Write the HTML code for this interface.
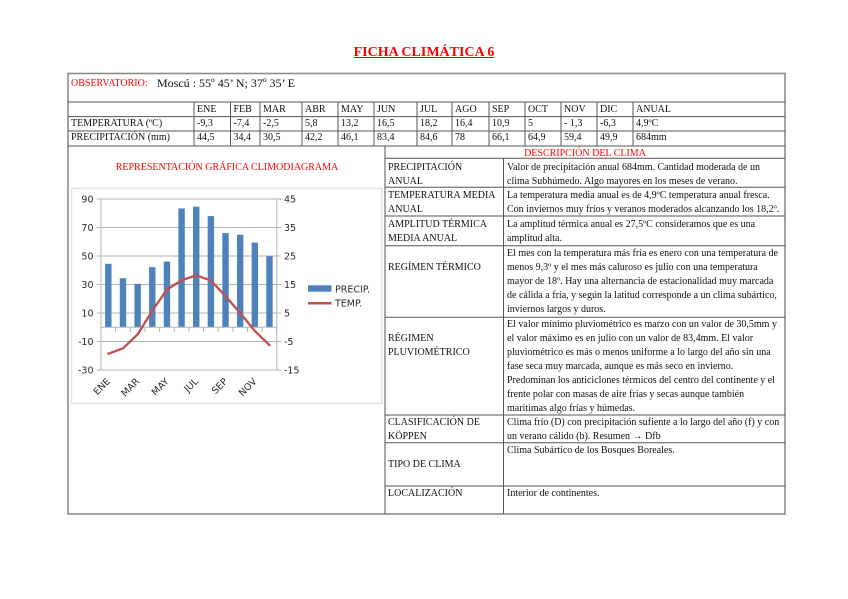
<!DOCTYPE html>
<html>
<head>
<meta charset="utf-8">
<style>
  html,body{margin:0;padding:0;background:#fff;}
  #pg{position:relative;width:848px;height:599px;overflow:hidden;background:#fff;
      font-family:"Liberation Serif","Times New Roman",serif;color:#111;}
  .t{position:absolute;white-space:nowrap;font-size:10px;line-height:14px;transform:translateY(1px);}
  .r{color:#ff0000;}
  svg{position:absolute;left:0;top:0;}
  .ax{font-family:"DejaVu Sans","Liberation Sans",sans-serif;font-size:9.5px;fill:#2a2a2a;}
</style>
</head>
<body>
<div id="pg">
<svg width="848" height="599" viewBox="0 0 848 599">
  <rect x="68" y="73.5" width="717" height="440.5" fill="none" stroke="#8c8c8c" stroke-width="1.6"/>
  <g stroke="#555" stroke-width="1">
    <line x1="68" y1="102" x2="785" y2="102"/>
    <line x1="68" y1="116.6" x2="785" y2="116.6"/>
    <line x1="68" y1="131" x2="785" y2="131"/>
    <line x1="68" y1="146" x2="785" y2="146"/>
    <line x1="194" y1="102" x2="194" y2="146"/>
    <line x1="230.5" y1="102" x2="230.5" y2="146"/>
    <line x1="260" y1="102" x2="260" y2="146"/>
    <line x1="302" y1="102" x2="302" y2="146"/>
    <line x1="338" y1="102" x2="338" y2="146"/>
    <line x1="374" y1="102" x2="374" y2="146"/>
    <line x1="417" y1="102" x2="417" y2="146"/>
    <line x1="452" y1="102" x2="452" y2="146"/>
    <line x1="489" y1="102" x2="489" y2="146"/>
    <line x1="525" y1="102" x2="525" y2="146"/>
    <line x1="561" y1="102" x2="561" y2="146"/>
    <line x1="597" y1="102" x2="597" y2="146"/>
    <line x1="633" y1="102" x2="633" y2="146"/>
    <line x1="385" y1="146" x2="385" y2="514"/>
    <line x1="503.5" y1="158.3" x2="503.5" y2="514"/>
    <line x1="385" y1="158.3" x2="785" y2="158.3"/>
    <line x1="385" y1="187.3" x2="785" y2="187.3"/>
    <line x1="385" y1="216" x2="785" y2="216"/>
    <line x1="385" y1="245.7" x2="785" y2="245.7"/>
    <line x1="385" y1="317.3" x2="785" y2="317.3"/>
    <line x1="385" y1="415" x2="785" y2="415"/>
    <line x1="385" y1="442.7" x2="785" y2="442.7"/>
    <line x1="385" y1="486" x2="785" y2="486"/>
  </g>

  <rect x="71.7" y="188.3" width="310.3" height="215" fill="none" stroke="#d9d9d9" stroke-width="1"/>
  <g stroke="#b3b3b3" stroke-width="1">
    <line x1="97" y1="199" x2="281" y2="199"/>
    <line x1="97" y1="227.5" x2="281" y2="227.5"/>
    <line x1="97" y1="256" x2="281" y2="256"/>
    <line x1="97" y1="284.5" x2="281" y2="284.5"/>
    <line x1="97" y1="313" x2="281" y2="313"/>
    <line x1="97" y1="341.5" x2="281" y2="341.5"/>
    <line x1="97" y1="370" x2="281" y2="370"/>
    <line x1="101" y1="199" x2="101" y2="370"/>
    <line x1="276.8" y1="199" x2="276.8" y2="370"/>
  </g>
  <g fill="#4f81bd">
    <rect x="105.13" y="263.84" width="6.4" height="63.41"/>
    <rect x="119.78" y="278.23" width="6.4" height="49.02"/>
    <rect x="134.43" y="283.79" width="6.4" height="43.46"/>
    <rect x="149.08" y="267.11" width="6.4" height="60.14"/>
    <rect x="163.73" y="261.56" width="6.4" height="65.69"/>
    <rect x="178.38" y="208.40" width="6.4" height="118.85"/>
    <rect x="193.03" y="206.69" width="6.4" height="120.56"/>
    <rect x="207.68" y="216.10" width="6.4" height="111.15"/>
    <rect x="222.33" y="233.06" width="6.4" height="94.19"/>
    <rect x="236.98" y="234.77" width="6.4" height="92.48"/>
    <rect x="251.63" y="242.60" width="6.4" height="84.65"/>
    <rect x="266.28" y="256.14" width="6.4" height="71.11"/>
  </g>
  <g stroke="#b3b3b3" stroke-width="1">
    <line x1="101" y1="327.25" x2="276.8" y2="327.25"/>
    <line x1="101" y1="327.25" x2="101" y2="332"/>
    <line x1="115.65" y1="327.25" x2="115.65" y2="332"/>
    <line x1="130.3" y1="327.25" x2="130.3" y2="332"/>
    <line x1="144.95" y1="327.25" x2="144.95" y2="332"/>
    <line x1="159.6" y1="327.25" x2="159.6" y2="332"/>
    <line x1="174.25" y1="327.25" x2="174.25" y2="332"/>
    <line x1="188.9" y1="327.25" x2="188.9" y2="332"/>
    <line x1="203.55" y1="327.25" x2="203.55" y2="332"/>
    <line x1="218.2" y1="327.25" x2="218.2" y2="332"/>
    <line x1="232.85" y1="327.25" x2="232.85" y2="332"/>
    <line x1="247.5" y1="327.25" x2="247.5" y2="332"/>
    <line x1="262.15" y1="327.25" x2="262.15" y2="332"/>
    <line x1="276.8" y1="327.25" x2="276.8" y2="332"/>
  </g>
  <polyline fill="none" stroke="#c0504d" stroke-width="2.3" stroke-linejoin="round" stroke-linecap="round"
    points="108.33,353.76 122.98,348.34 137.63,334.38 152.28,310.72 166.93,289.63 181.58,280.23 196.23,275.38 210.88,280.51 225.53,296.19 240.18,313.0 254.83,330.96 269.48,345.21"/>
  <g class="ax" text-anchor="end">
    <text x="93.5" y="202.4">90</text>
    <text x="93.5" y="230.9">70</text>
    <text x="93.5" y="259.4">50</text>
    <text x="93.5" y="287.9">30</text>
    <text x="93.5" y="316.4">10</text>
    <text x="93.5" y="344.9">-10</text>
    <text x="93.5" y="373.4">-30</text>
  </g>
  <g class="ax">
    <text x="284" y="202.4">45</text>
    <text x="284" y="230.9">35</text>
    <text x="284" y="259.4">25</text>
    <text x="284" y="287.9">15</text>
    <text x="284" y="316.4">5</text>
    <text x="284" y="344.9">-5</text>
    <text x="284" y="373.4">-15</text>
  </g>
  <g class="ax" text-anchor="end">
    <text transform="translate(110.8,382) rotate(-45)">ENE</text>
    <text transform="translate(140.1,382) rotate(-45)">MAR</text>
    <text transform="translate(169.4,382) rotate(-45)">MAY</text>
    <text transform="translate(198.7,382) rotate(-45)">JUL</text>
    <text transform="translate(228.0,382) rotate(-45)">SEP</text>
    <text transform="translate(257.3,382) rotate(-45)">NOV</text>
  </g>
  <rect x="308" y="285.3" width="23.5" height="6.4" fill="#4f81bd"/>
  <text class="ax" x="335" y="292.7">PRECIP.</text>
  <line x1="308" y1="303.3" x2="331.5" y2="303.3" stroke="#c0504d" stroke-width="2.5"/>
  <text class="ax" x="335" y="306.7">TEMP.</text>
</svg>

<div class="t r" style="left:324px;width:200px;top:43.5px;text-align:center;font-size:14px;line-height:16px;font-weight:bold;text-decoration:underline;">FICHA CLIMÁTICA 6</div>

<div class="t r" style="left:71px;top:76px;">OBSERVATORIO:</div>
<div class="t" style="left:157px;top:75px;font-size:12px;">Moscú : 55º 45’ N; 37º 35’ E</div>

<div class="t" style="left:197px;top:102px;">ENE</div>
<div class="t" style="left:233.5px;top:102px;">FEB</div>
<div class="t" style="left:263px;top:102px;">MAR</div>
<div class="t" style="left:305px;top:102px;">ABR</div>
<div class="t" style="left:341px;top:102px;">MAY</div>
<div class="t" style="left:377px;top:102px;">JUN</div>
<div class="t" style="left:420px;top:102px;">JUL</div>
<div class="t" style="left:455px;top:102px;">AGO</div>
<div class="t" style="left:492px;top:102px;">SEP</div>
<div class="t" style="left:528px;top:102px;">OCT</div>
<div class="t" style="left:564px;top:102px;">NOV</div>
<div class="t" style="left:600px;top:102px;">DIC</div>
<div class="t" style="left:636px;top:102px;">ANUAL</div>

<div class="t" style="left:71px;top:115.7px;">TEMPERATURA (ºC)</div>
<div class="t" style="left:197px;top:115.7px;">-9,3</div>
<div class="t" style="left:233.5px;top:115.7px;">-7,4</div>
<div class="t" style="left:263px;top:115.7px;">-2,5</div>
<div class="t" style="left:305px;top:115.7px;">5,8</div>
<div class="t" style="left:341px;top:115.7px;">13,2</div>
<div class="t" style="left:377px;top:115.7px;">16,5</div>
<div class="t" style="left:420px;top:115.7px;">18,2</div>
<div class="t" style="left:455px;top:115.7px;">16,4</div>
<div class="t" style="left:492px;top:115.7px;">10,9</div>
<div class="t" style="left:528px;top:115.7px;">5</div>
<div class="t" style="left:564px;top:115.7px;">- 1,3</div>
<div class="t" style="left:600px;top:115.7px;">-6,3</div>
<div class="t" style="left:636px;top:115.7px;">4,9ºC</div>

<div class="t" style="left:71px;top:129.7px;">PRECIPITACIÓN (mm)</div>
<div class="t" style="left:197px;top:129.7px;">44,5</div>
<div class="t" style="left:233.5px;top:129.7px;">34,4</div>
<div class="t" style="left:263px;top:129.7px;">30,5</div>
<div class="t" style="left:305px;top:129.7px;">42,2</div>
<div class="t" style="left:341px;top:129.7px;">46,1</div>
<div class="t" style="left:377px;top:129.7px;">83,4</div>
<div class="t" style="left:420px;top:129.7px;">84,6</div>
<div class="t" style="left:455px;top:129.7px;">78</div>
<div class="t" style="left:492px;top:129.7px;">66,1</div>
<div class="t" style="left:528px;top:129.7px;">64,9</div>
<div class="t" style="left:564px;top:129.7px;">59,4</div>
<div class="t" style="left:600px;top:129.7px;">49,9</div>
<div class="t" style="left:636px;top:129.7px;">684mm</div>

<div class="t r" style="left:77px;width:300px;top:160px;text-align:center;">REPRESENTACIÓN GRÁFICA CLIMODIAGRAMA</div>

<div class="t r" style="left:385px;width:400px;top:145.5px;text-align:center;">DESCRIPCIÓN DEL CLIMA</div>

<div class="t" style="left:388px;top:159.5px;">PRECIPITACIÓN<br>ANUAL</div>
<div class="t" style="left:507px;top:159.5px;">Valor de precipitación anual 684mm. Cantidad moderada de un<br>clima Subhúmedo. Algo mayores en los meses de verano.</div>

<div class="t" style="left:388px;top:188px;">TEMPERATURA MEDIA<br>ANUAL</div>
<div class="t" style="left:507px;top:188px;">La temperatura media anual es de 4,9ºC temperatura anual fresca.<br>Con inviernos muy fríos y veranos moderados alcanzando los 18,2º.</div>

<div class="t" style="left:388px;top:216.5px;">AMPLITUD TÉRMICA<br>MEDIA ANUAL</div>
<div class="t" style="left:507px;top:216.5px;">La amplitud térmica anual es 27,5ºC consideramos que es una<br>amplitud alta.</div>

<div class="t" style="left:388px;top:260px;">REGÍMEN TÉRMICO</div>
<div class="t" style="left:507px;top:246px;">El mes con la temperatura más fría es enero con una temperatura de<br>menos 9,3º y el mes más caluroso es julio con una temperatura<br>mayor de 18º. Hay una alternancia de estacionalidad muy marcada<br>de cálida a fría, y según la latitud corresponde a un clima subártico,<br>inviernos largos y duros.</div>

<div class="t" style="left:388px;top:330.5px;">RÉGIMEN<br>PLUVIOMÉTRICO</div>
<div class="t" style="left:507px;top:316.5px;">El valor mínimo pluviométrico es marzo con un valor de 30,5mm y<br>el valor máximo es en julio con un valor de 83,4mm. El valor<br>pluviométrico es más o menos uniforme a lo largo del año sin una<br>fase seca muy marcada, aunque es más seco en invierno.<br>Predominan los anticiclones térmicos del centro del continente y el<br>frente polar con masas de aire frías y secas aunque también<br>marítimas algo frías y húmedas.</div>

<div class="t" style="left:388px;top:414.5px;">CLASIFICACIÓN DE<br>KÖPPEN</div>
<div class="t" style="left:507px;top:414.5px;">Clima frío (D) con precipitación sufiente a lo largo del año (f) y con<br>un verano cálido (b). Resumen → Dfb</div>

<div class="t" style="left:388px;top:457px;">TIPO DE CLIMA</div>
<div class="t" style="left:507px;top:442.5px;">Clima Subártico de los Bosques Boreales.</div>

<div class="t" style="left:388px;top:485.5px;">LOCALIZACIÓN</div>
<div class="t" style="left:507px;top:485.5px;">Interior de continentes.</div>
</div>
</body>
</html>
